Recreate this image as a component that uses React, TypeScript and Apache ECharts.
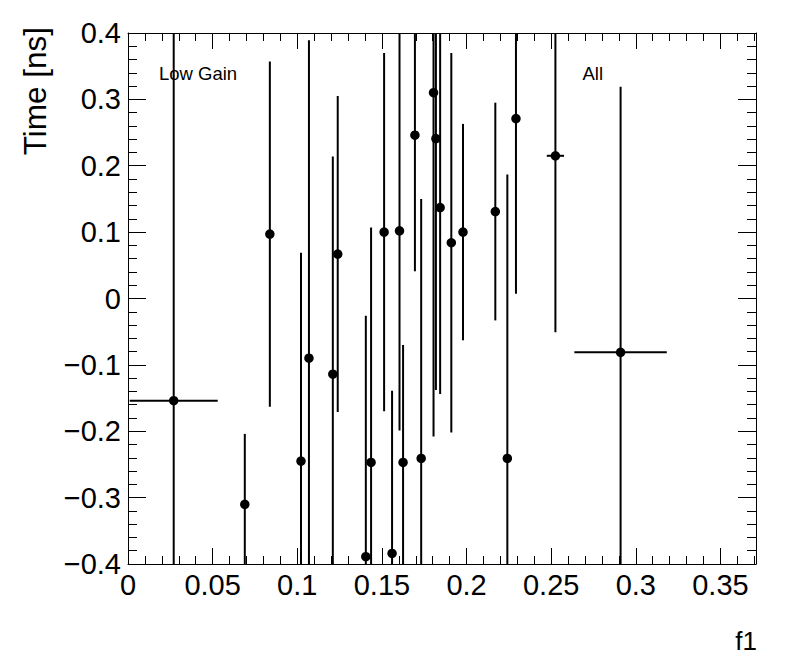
import React, { useEffect, useRef } from 'react';
import * as echarts from 'echarts';

// f1 values (x), time values (y) and their errors
const fX = [0.027, 0.069, 0.0838, 0.1022, 0.1069, 0.121, 0.1239, 0.1405, 0.1436, 0.1513, 0.156, 0.1604, 0.1625, 0.1695, 0.1732, 0.1805, 0.1819, 0.1844, 0.191, 0.1979, 0.217, 0.2241, 0.2292, 0.2525, 0.291];
const fTime = [-0.154, -0.31, 0.097, -0.245, -0.09, -0.114, 0.067, -0.389, -0.247, 0.1, -0.384, 0.102, -0.247, 0.246, -0.241, 0.31, 0.241, 0.137, 0.084, 0.1, 0.131, -0.241, 0.271, 0.215, -0.081];
const fXErr = [0.026, 0, 0, 0, 0, 0, 0, 0, 0, 0, 0, 0, 0, 0, 0, 0, 0, 0, 0, 0, 0, 0, 0, 0.0051, 0.0273];
const fTimeErr = [0.62, 0.106, 0.26, 0.314, 0.479, 0.328, 0.238, 0.363, 0.354, 0.27, 0.245, 0.301, 0.177, 0.205, 0.391, 0.518, 0.379, 0.281, 0.286, 0.163, 0.164, 0.428, 0.264, 0.266, 0.4];

const X_MIN = 0;
const X_MAX = 0.371;
const Y_MIN = -0.4;
const Y_MAX = 0.4;
const X_MAJOR = 0.05;
const X_MINOR = 0.01;
const Y_MAJOR = 0.1;
const Y_MINOR = 0.02;

const FONT = 'Liberation Sans, Arial, Helvetica, sans-serif';

function fmt(v: number): string {
  const r = Number(v.toFixed(3));
  if (r === 0) return '0';
  return r < 0 ? '\u2212' + String(Math.abs(r)) : String(r);
}

export default function App() {
  const ref = useRef<HTMLDivElement>(null);
  useEffect(() => {
    const chart = echarts.init(ref.current!, null, { renderer: 'svg' });
    const points = fX.map((x, i) => [x, fTime[i], fXErr[i], fTimeErr[i]]);
    const black = '#000';

    const xBase = (position: string, interval: number, tickLen: number, line: boolean, labels: boolean) => ({
      type: 'value',
      position,
      min: X_MIN,
      max: X_MAX,
      interval,
      splitLine: { show: false },
      axisLine: { show: line, onZero: false, lineStyle: { color: black, width: 1 } },
      axisTick: { show: true, inside: true, length: tickLen, lineStyle: { color: black, width: 1 } },
      axisLabel: {
        show: labels,
        showMaxLabel: false,
        margin: 6,
        color: black,
        fontSize: 29,
        fontFamily: FONT,
        formatter: (v: number) => fmt(v),
      },
    });
    const yBase = (position: string, interval: number, tickLen: number, line: boolean, labels: boolean) => ({
      type: 'value',
      position,
      min: Y_MIN,
      max: Y_MAX,
      interval,
      splitLine: { show: false },
      axisLine: { show: line, onZero: false, lineStyle: { color: black, width: 1 } },
      axisTick: { show: true, inside: true, length: tickLen, lineStyle: { color: black, width: 1 } },
      axisLabel: {
        show: labels,
        margin: 7,
        color: black,
        fontSize: 29,
        fontFamily: FONT,
        formatter: (v: number) => fmt(v),
      },
    });

    const option: any = {
      animation: false,
      backgroundColor: '#fff',
      grid: { left: 128, top: 33, right: 40, bottom: 108, containLabel: false },
      xAxis: [
        xBase('bottom', X_MAJOR, 16, true, true),
        xBase('bottom', X_MINOR, 8, false, false),
        xBase('top', X_MAJOR, 16, true, false),
        xBase('top', X_MINOR, 8, false, false),
      ],
      yAxis: [
        yBase('left', Y_MAJOR, 18, true, true),
        yBase('left', Y_MINOR, 9, false, false),
        yBase('right', Y_MAJOR, 18, true, false),
        yBase('right', Y_MINOR, 9, false, false),
      ],
      series: [
        {
          type: 'custom',
          xAxisIndex: 0,
          yAxisIndex: 0,
          data: points,
          encode: { x: 0, y: 1 },
          renderItem: (params: any, api: any) => {
            const cs = params.coordSys;
            const x = api.value(0);
            const y = api.value(1);
            const xe = api.value(2);
            const ye = api.value(3);
            const c = api.coord([x, y]);
            const top = api.coord([x, y + ye]);
            const bot = api.coord([x, y - ye]);
            const lft = api.coord([x - xe, y]);
            const rgt = api.coord([x + xe, y]);
            const cy = (v: number) => Math.max(cs.y, Math.min(cs.y + cs.height, v));
            const cx = (v: number) => Math.max(cs.x, Math.min(cs.x + cs.width, v));
            const children: any[] = [
              {
                type: 'line',
                shape: { x1: c[0], y1: cy(top[1]), x2: c[0], y2: cy(bot[1]) },
                style: { stroke: black, lineWidth: 2, opacity: 1 },
              },
            ];
            if (xe > 0) {
              children.push({
                type: 'line',
                shape: { x1: cx(lft[0]), y1: c[1], x2: cx(rgt[0]), y2: c[1] },
                style: { stroke: black, lineWidth: 2, opacity: 1 },
              });
            }
            return { type: 'group', children };
          },
          z: 2,
        },
        {
          type: 'scatter',
          xAxisIndex: 0,
          yAxisIndex: 0,
          data: points.map((p) => [p[0], p[1]]),
          symbol: 'circle',
          symbolSize: 9.5,
          itemStyle: { color: black, opacity: 1 },
          z: 3,
        },
      ],
      graphic: [
        {
          type: 'text',
          x: 159,
          y: 73.5,
          style: { text: 'Low Gain', fill: black, fontSize: 18.5, fontFamily: FONT, align: 'left', verticalAlign: 'middle', textAlign: 'left', textVerticalAlign: 'middle' },
        },
        {
          type: 'text',
          x: 582.5,
          y: 73.5,
          style: { text: 'All', fill: black, fontSize: 18.5, fontFamily: FONT, align: 'left', verticalAlign: 'middle', textAlign: 'left', textVerticalAlign: 'middle' },
        },
        {
          type: 'text',
          x: 757,
          y: 640.5,
          style: { text: 'f1', fill: black, fontSize: 26, fontFamily: FONT, align: 'right', verticalAlign: 'middle', textAlign: 'right', textVerticalAlign: 'middle' },
        },
        {
          type: 'text',
          x: 35,
          y: 27,
          rotation: Math.PI / 2,
          style: { text: 'Time [ns]', fill: black, fontSize: 31.5, fontFamily: FONT, align: 'right', verticalAlign: 'middle', textAlign: 'right', textVerticalAlign: 'middle' },
        },
      ],
    };
    chart.setOption(option);
    return () => chart.dispose();
  }, []);
  return (
    <div
      ref={ref}
      style={{ position: 'absolute', left: 0, top: 0, width: 796, height: 672, background: '#fff' }}
    />
  );
}
